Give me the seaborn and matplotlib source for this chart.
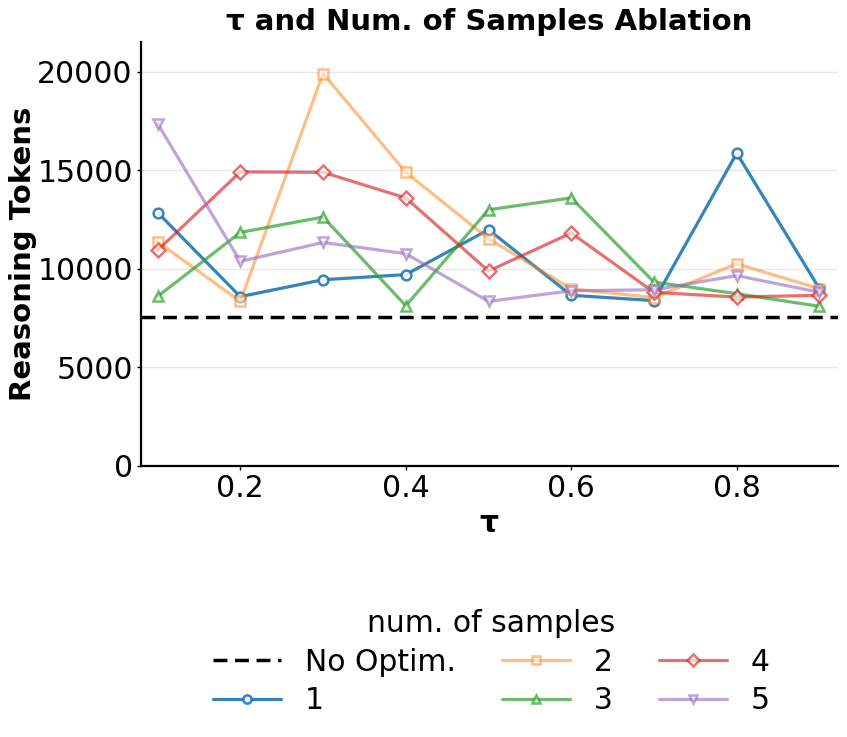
import pandas as pd
import matplotlib.pyplot as plt
import seaborn as sns

# values
tau = [0.1, 0.2, 0.3, 0.4, 0.5, 0.6, 0.7, 0.8, 0.9]
samples_1 = [12850, 8580, 9440, 9700, 11980, 8650, 8380, 15860, 8980]
samples_2 = [11370, 8340, 19900, 14890, 11520, 8980, 8530, 10250, 8980]
samples_3 = [8590, 11840, 12620, 8120, 12990, 13590, 9320, 8730, 8090]
samples_4 = [10930, 14910, 14890, 13590, 9880, 11810, 8800, 8560, 8650]
samples_5 = [17360, 10370, 11330, 10760, 8340, 8880, 8930, 9650, 8800]
no_optim = 7560

series_names = ["1", "2", "3", "4", "5"]
series_vals = [samples_1, samples_2, samples_3, samples_4, samples_5]

rows = []
for name, vals in zip(series_names, series_vals):
    for t, v in zip(tau, vals):
        rows.append({"tau": t, "tokens": v, "samples": name})
df = pd.DataFrame(rows)

sns.set_style("white")
plt.rcParams["font.family"] = ["DejaVu Sans"]
for key in ["text.color", "axes.labelcolor", "xtick.color", "ytick.color"]:
    plt.rcParams[key] = "black"

fs = 21.5

fig = plt.figure(figsize=(8.47, 7.37), dpi=100)
ax = fig.add_axes([0.1665, 0.368, 0.8225, 0.575])

palette = sns.color_palette("tab10")
markers = ["o", "s", "^", "D", "v"]
alphas = [0.9, 0.5, 0.7, 0.65, 0.6]

ax.axhline(no_optim, color="black", linestyle="--", linewidth=2.5, dashes=(4, 2.2),
           label="No Optim.")

for i, name in enumerate(series_names):
    sub = df[df["samples"] == name]
    sns.lineplot(data=sub, x="tau", y="tokens", ax=ax, color=palette[i],
                 marker=markers[i], markersize=7, markerfacecolor="white",
                 markeredgecolor=palette[i], markeredgewidth=1.8,
                 linewidth=2.3, alpha=alphas[i], label=name)

ax.set_xlim(0.08, 0.922)
ax.set_ylim(0, 21500)
ax.set_yticks([0, 5000, 10000, 15000, 20000])
ax.set_xticks([0.2, 0.4, 0.6, 0.8])
ax.yaxis.grid(True, color="#e8e8e8", linewidth=1)
ax.xaxis.grid(False)
sns.despine(ax=ax)
for s in ["left", "bottom"]:
    ax.spines[s].set_color("black")
    ax.spines[s].set_linewidth(1.6)
ax.tick_params(axis="both", labelsize=fs, length=3, width=1, color="black",
               left=True, bottom=True, pad=3)

ax.set_title("τ and Num. of Samples Ablation", fontsize=21, fontweight="bold", pad=9)
ax.set_xlabel("τ", fontsize=fs, fontweight="bold", labelpad=4)
ax.set_ylabel("Reasoning Tokens", fontsize=21, fontweight="bold", labelpad=0)

handles, labels = ax.get_legend_handles_labels()
if ax.get_legend():
    ax.get_legend().remove()
leg = fig.legend(handles, labels, loc="upper center", bbox_to_anchor=(0.58, 0.21),
                 ncol=3, frameon=False, fontsize=fs, title="num. of samples",
                 title_fontsize=fs, handlelength=2.27, markerscale=0.85,
                 columnspacing=1.55, labelspacing=0.32)

plt.savefig("out.png", dpi=100)
plt.close()
